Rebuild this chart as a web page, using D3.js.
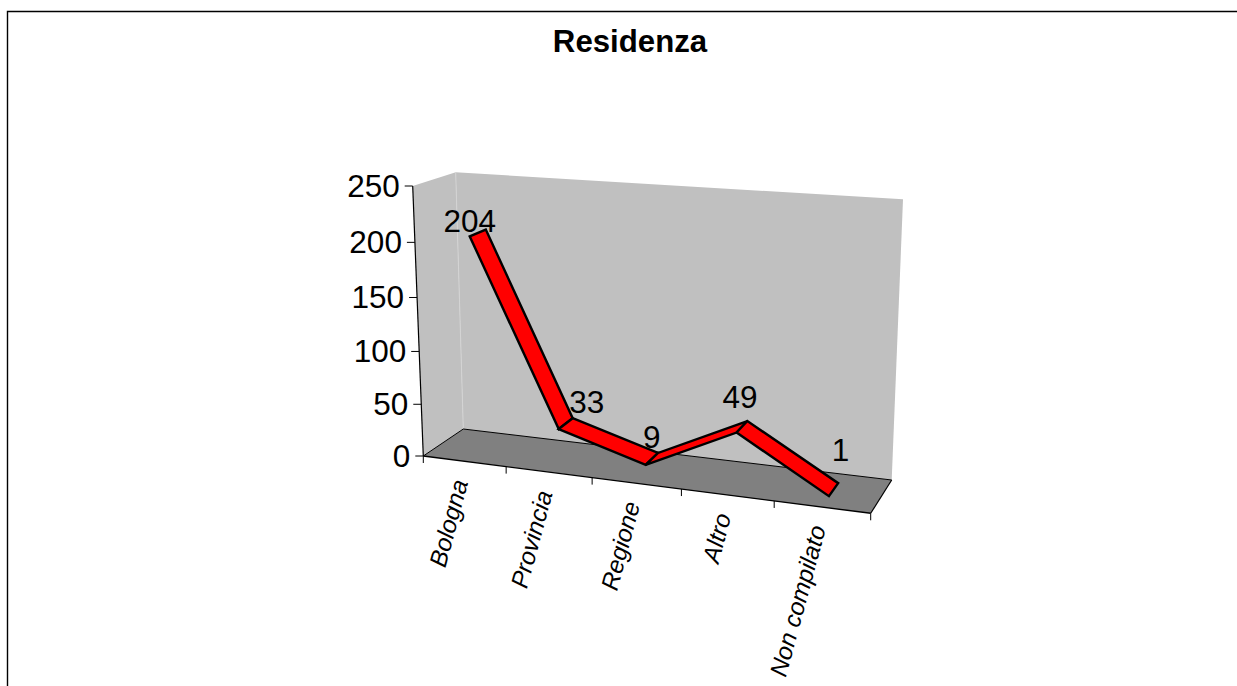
<!DOCTYPE html>
<html>
<head>
<meta charset="utf-8">
<script src="https://cdn.jsdelivr.net/npm/d3@7/dist/d3.min.js"></script>
<style>
html,body{margin:0;padding:0;background:#fff}
svg{display:block}
text{font-family:"Liberation Sans",Arial,sans-serif;fill:#000}
</style>
</head>
<body>
<svg id="chart" width="1237" height="686"></svg>
<script>
// Series
const categories = ["Bologna", "Provincia", "Regione", "Altro", "Non compilato"];
const values = [204, 33, 9, 49, 1];
const valueTicks = [0, 50, 100, 150, 200, 250];
const chartTitle = "Residenza";

// Per-label placement relative to the ribbon's centre line
const labelNudgeX = [-8, 21, 0, -2, 7];
const labelNudgeY = [-12, -22, -22, -30, -40];

const W = 1237, H = 686;
const svg = d3.select("#chart");

// Corners of the plot box: [category end][depth][height]
const box = {
  fl0: [423.3, 456], fr0: [870.7, 513.3], bl0: [463.3, 429], br0: [891.7, 480],
  fl1: [412.7, 186], fr1: [885, 219],     bl1: [455.7, 172.3], br1: [903, 199.3]
};

const lerp = (a, b, t) => a + (b - a) * t;
const lerp2 = (p, q, t) => [lerp(p[0], q[0], t), lerp(p[1], q[1], t)];

const band = d3.scaleBand().domain(categories).range([0, 1]);
const yScale = d3.scaleLinear().domain([0, 250]).range([0, 1]);

// Perspective foreshortening along both axes: nearer parts appear wider
const foreshorten = (u, k) => u / (u + k * (1 - u));

function project(u, depth, h) {
  const f = foreshorten(u, 1.1), g = foreshorten(h, 1.055);
  const front = lerp2(lerp2(box.fl0, box.fr0, f), lerp2(box.fl1, box.fr1, f), g);
  const back  = lerp2(lerp2(box.bl0, box.br0, f), lerp2(box.bl1, box.br1, f), g);
  return lerp2(front, back, depth);
}
const centre = c => band(c) + band.bandwidth() / 2;
const poly = pts => "M" + pts.map(p => p.map(n => n.toFixed(2)).join(",")).join("L") + "Z";
const seg = (g, a, b, w, col) => g.append("line")
  .attr("x1", a[0]).attr("y1", a[1]).attr("x2", b[0]).attr("y2", b[1])
  .attr("stroke", col || "#000").attr("stroke-width", w);

// Outer chart frame: top and left edges
svg.append("path").attr("d", `M7.5,${H}V11.5H${W}`)
  .attr("fill", "none").attr("stroke", "#000").attr("stroke-width", 1.4);

// Title
svg.append("text").attr("x", 630).attr("y", 52).attr("text-anchor", "middle")
  .attr("font-size", 31.2).attr("font-weight", "bold").text(chartTitle);

const walls = svg.append("g");
walls.append("path").attr("d", poly([box.bl0, box.bl1, box.br1, box.br0])).attr("fill", "#c0c0c0");
walls.append("path").attr("d", poly([box.fl0, box.fl1, box.bl1, box.bl0])).attr("fill", "#c0c0c0");
walls.append("path").attr("d", poly([box.fl0, box.bl0, box.br0, box.fr0])).attr("fill", "#808080");
seg(walls, box.bl0, box.bl1, 1, "#d4d4d4");
seg(walls, box.bl0, box.br0, 1);
seg(walls, box.fl0, box.bl0, 1);
seg(walls, box.br0, box.fr0, 1.2);
seg(walls, box.fl0, box.fr0, 1.4);
seg(walls, box.fl0, box.fl1, 1.2);

// Value axis
const yAxis = svg.append("g");
valueTicks.forEach(t => {
  const p = project(0, 0, yScale(t));
  seg(yAxis, p, [p[0] - 8, p[1]], 1);
  yAxis.append("text").attr("x", p[0] - 13).attr("y", p[1] + 11)
    .attr("text-anchor", "end").attr("font-size", 31.5).text(t);
});

// Category axis
const xAxis = svg.append("g");
d3.range(categories.length + 1).forEach(i => {
  const p = project(i / categories.length, 0, 0);
  seg(xAxis, p, [p[0], p[1] + 7], 1);
});
categories.forEach(c => {
  const p = project(centre(c), 0, 0);
  xAxis.append("text")
    .attr("transform", `translate(${p[0] + 4},${p[1] + 21}) rotate(-75)`)
    .attr("text-anchor", "end").attr("font-size", 24.3).attr("font-style", "italic").text(c);
});

// Ribbon line: one face per pair of neighbouring categories
const depth0 = 0.3, depth1 = 0.7;
const ribbon = svg.append("g");
d3.pairs(categories.map((c, i) => ({ c, v: values[i] }))).forEach(([a, b]) => {
  const ua = centre(a.c), ub = centre(b.c);
  ribbon.append("path")
    .attr("d", poly([
      project(ua, depth0, yScale(a.v)), project(ua, depth1, yScale(a.v)),
      project(ub, depth1, yScale(b.v)), project(ub, depth0, yScale(b.v))
    ]))
    .attr("fill", "#ff0000").attr("stroke", "#000")
    .attr("stroke-width", 2.4).attr("stroke-linejoin", "miter");
});

// Value labels
categories.forEach((c, i) => {
  const p = project(centre(c), (depth0 + depth1) / 2, yScale(values[i]));
  svg.append("text").attr("x", p[0] + labelNudgeX[i]).attr("y", p[1] + labelNudgeY[i] + 11)
    .attr("text-anchor", "middle").attr("font-size", 31.5).text(values[i]);
});
</script>
</body>
</html>
